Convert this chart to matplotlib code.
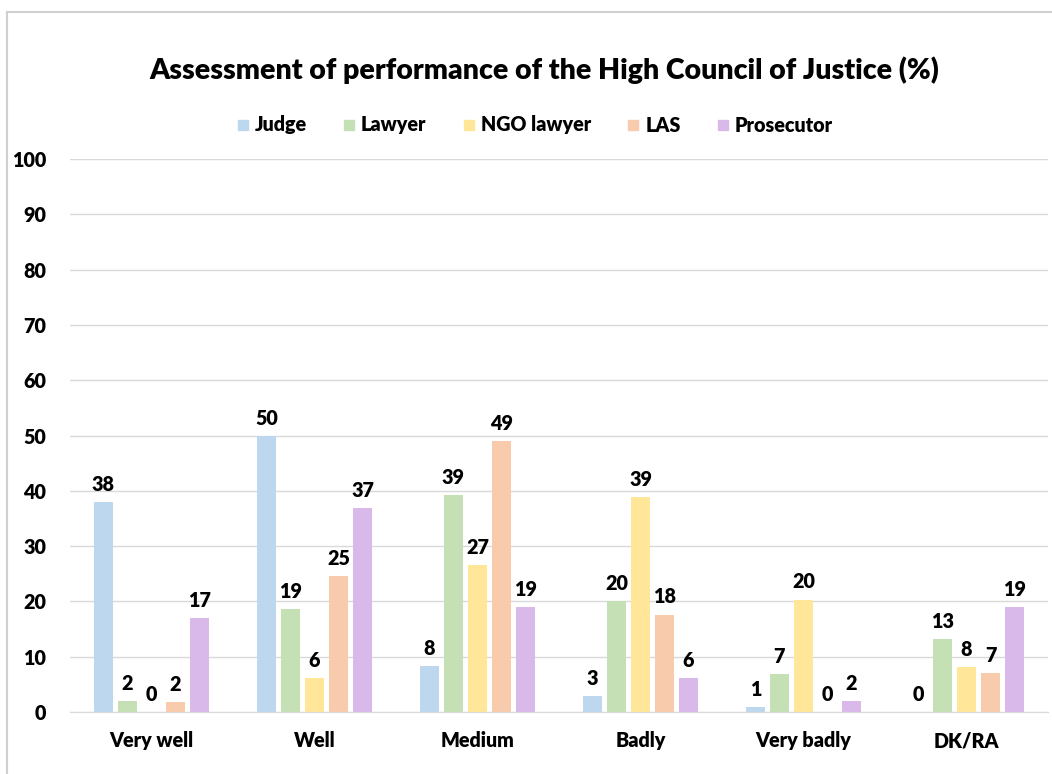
import matplotlib.pyplot as plt
import numpy as np
from matplotlib.lines import Line2D

categories = ["Very well", "Well", "Medium", "Badly", "Very badly", "DK/RA"]
series_names = ["Judge", "Lawyer", "NGO lawyer", "LAS", "Prosecutor"]
judge = [38.0, 49.9, 8.3, 2.9, 0.9, 0.0]
lawyer = [2.0, 18.6, 39.2, 20.1, 6.9, 13.2]
ngo_lawyer = [0.0, 6.1, 26.6, 38.9, 20.3, 8.1]
las = [1.8, 24.6, 49.0, 17.6, 0.0, 7.0]
prosecutor = [17.0, 36.9, 19.0, 6.1, 2.0, 19.0]
colors = ["#BDD7EE", "#C5E0B4", "#FFE699", "#F8CBAD", "#D9B9E9"]
yticks = list(range(0, 101, 10))

FONT = "Lato"
W = "heavy"
FS = 14.2

fig = plt.figure(figsize=(10.52, 7.74), dpi=100)
ax = fig.add_axes([70 / 1052, 1 - 712 / 774, 978 / 1052, 553 / 774])

x = np.arange(len(categories))
pitch = 0.1475
width = 0.117
all_series = [judge, lawyer, ngo_lawyer, las, prosecutor]
for i, (name, vals, col) in enumerate(zip(series_names, all_series, colors)):
    bars = ax.bar(x + (i - 2) * pitch, vals, width=width, color=col, label=name, zorder=2)
    ax.bar_label(bars, labels=[f"{round(v):d}" for v in vals], padding=6,
                 fontsize=FS, fontweight=W, family=FONT, color="#000000")

ax.set_xlim(-0.5, len(categories) - 0.5)
ax.set_ylim(0, 100)
ax.set_yticks(yticks)
ax.set_xticks(x)
ax.set_xticklabels(categories)
ax.grid(axis="y", color="#D9D9D9", lw=1.0, zorder=0)
for spine in ["top", "right", "left"]:
    ax.spines[spine].set_visible(False)
ax.spines["bottom"].set_color("#D9D9D9")
ax.tick_params(length=0, labelsize=FS)
ax.tick_params(axis="x", pad=14)
ax.tick_params(axis="y", pad=17)
for lab in ax.get_xticklabels() + ax.get_yticklabels():
    lab.set_fontweight(W)
    lab.set_family(FONT)

fig.text(544 / 1052, 1 - 70 / 774, "Assessment of performance of the High Council of Justice (%)",
         ha="center", va="center", fontsize=20.5, fontweight=W, family=FONT)

handles = [Line2D([], [], marker="s", linestyle="none", markersize=7.5,
                  markerfacecolor=c, markeredgecolor=c) for c in colors]
fig.legend(handles, series_names, loc="center", bbox_to_anchor=(535 / 1052, 1 - 125 / 774),
           ncol=5, frameon=False, handlelength=0.6, handletextpad=0.3, columnspacing=1.85,
           prop={"family": FONT, "weight": W, "size": FS})

# outer chart border (top and left edges visible)
fig.add_artist(Line2D([7 / 1052, 7 / 1052], [0, 1 - 12 / 774], color="#D0D0D0", lw=1.5))
fig.add_artist(Line2D([7 / 1052, 1], [1 - 12 / 774, 1 - 12 / 774], color="#D0D0D0", lw=1.5))

fig.savefig("out.png", dpi=100)
